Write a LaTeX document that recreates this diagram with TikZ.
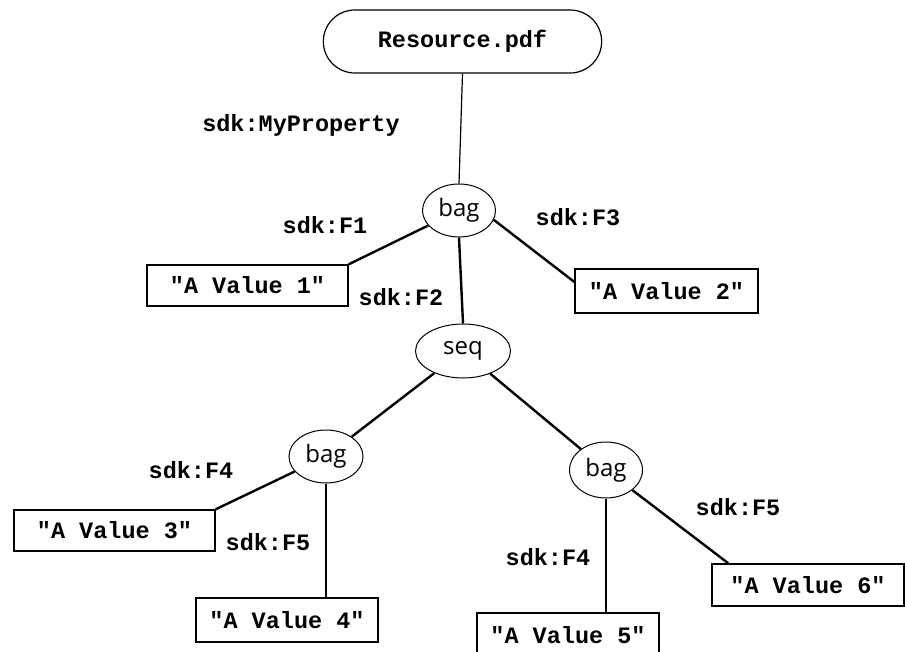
\documentclass[tikz,border=0pt]{standalone}
\usepackage{fontspec}
\setmainfont{Open Sans}
\newfontfamily\courier{Liberation Mono}
\usepackage{tikz}
\usetikzlibrary{shapes,calc}

\begin{document}
\begin{tikzpicture}[x=1pt,y=-1pt]
    \tikzstyle{root}=[rounded rectangle,draw,line width=1.2pt,minimum width=285pt,minimum height=63pt,font=\fontsize{23.5}{24}\selectfont\courier\bfseries]  % top resource
    \tikzstyle{coll}=[ellipse,draw,line width=1pt,inner sep=0pt,font=\fontsize{24}{26}\selectfont]  % bag / seq
    \tikzstyle{val}=[rectangle,draw,line width=1.4pt,inner sep=0pt,minimum height=43pt,font=\fontsize{23.5}{24}\selectfont\courier\bfseries]  % literal values
    \tikzstyle{prop}=[inner sep=0pt,font=\fontsize{23.5}{24}\selectfont\courier\bfseries]  % property names
    \tikzstyle{arc}=[line width=2.4pt]

    \useasboundingbox (0,0) rectangle (905,652);

    % nodes
    \node[root](res) at (462.5,41.5){Resource.pdf};
    \node[coll,minimum width=73pt,minimum height=53pt](bag1) at (459,210.5){bag};
    \node[coll,minimum width=95pt,minimum height=54pt](seq) at (463,351){seq};
    \node[coll,minimum width=74pt,minimum height=53pt](bag2) at (326,456.5){bag};
    \node[coll,minimum width=73pt,minimum height=56pt](bag3) at (606,470){bag};

    \node[val,minimum width=201pt,minimum height=41pt](v1) at (247.5,285.5){"A Value 1"};
    \node[val,minimum width=183pt,minimum height=44pt](v2) at (666.5,291){"A Value 2"};
    \node[val,minimum width=201pt,minimum height=41pt](v3) at (114.5,530.5){"A Value 3"};
    \node[val,minimum width=182pt,minimum height=44pt](v4) at (287,620){"A Value 4"};
    \node[val,minimum width=182pt,minimum height=44pt](v5) at (568,635){"A Value 5"};
    \node[val,minimum width=192pt,minimum height=42pt](v6) at (808,585){"A Value 6"};

    % property labels
    \node[prop](p0) at (301,125){sdk:MyProperty};
    \node[prop](p1) at (325,225){sdk:F1};
    \node[prop](p2) at (401,297){sdk:F2};
    \node[prop](p3) at (578,217){sdk:F3};
    \node[prop](p4) at (191,470){sdk:F4};
    \node[prop](p5) at (268,542){sdk:F5};
    \node[prop](p6) at (548,557){sdk:F4};
    \node[prop](p7) at (738,507){sdk:F5};

    % lines
    \draw[line width=1.2pt](res.south)--(bag1.north);
    \draw[arc](bag1)--(v1.north east);
    \draw[arc](bag1.south)--(seq.north);
    \draw[arc](bag1.-15)--($(v2.north west)!.3!(v2.south west)$);
    \draw[arc](seq)--(bag2);
    \draw[arc](seq)--(bag3);
    \draw[arc](bag2)--(v3.north east);
    \draw[arc](bag2.south)--(bag2.south |- v4.north);
    \draw[arc](bag3.south)--(bag3.south |- v5.north);
    \draw[arc](bag3)--([xshift=17pt]v6.north west);
\end{tikzpicture}
\end{document}
